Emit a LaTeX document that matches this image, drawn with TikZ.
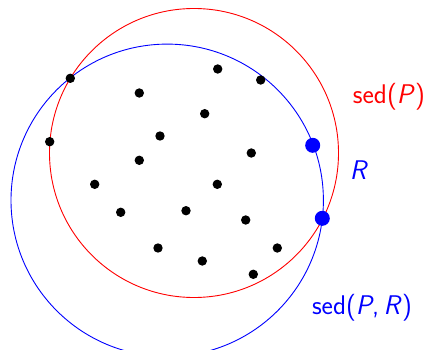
\documentclass[tikz,border=0pt]{standalone}
\usepackage{tikz}
\usetikzlibrary{positioning}

\begin{document}
\begin{tikzpicture}[x=1pt, y=-1pt, line width=0.9pt,
  pt/.style={circle, fill=black, inner sep=0pt, minimum size=9.4pt},
  bigpt/.style={circle, fill=blue, inner sep=0pt, minimum size=15pt},
  lbl/.style={font=\fontsize{27}{31}\selectfont\sffamily, inner sep=0pt}]
\useasboundingbox (0,0) rectangle (428,350);
% the two enclosing circles
\draw[red] (194,153) circle[radius=144.5pt];
\draw[blue] (167.2,200.3) circle[radius=156.2pt];
% point set P
\foreach \x/\y [count=\i] in {70.3/78.3, 217.7/69, 260.7/80, 139.3/93, 204.7/113.7,
    49.7/141.7, 160/136, 251.3/153, 139.3/160.3, 94.7/184.3, 217.3/184.3,
    120.7/212.3, 186/210.7, 245.7/220, 158/248, 277.3/248, 202.3/261, 253.3/274.3}
  \node[pt] (p\i) at (\x,\y) {};
% the set R
\node[bigpt] (r1) at (312.7,145.3) {};
\node[bigpt] (r2) at (322.3,218.3) {};
% labels
\node[lbl, text=red] (sedp) at (389,96.7) {sed(\textit{P})};
\node[lbl, text=blue] (rlab) at (359,170) {\textit{R}};
\node[lbl, text=blue] (sedpr) at (362,308) {sed(\textit{P},\,\textit{R})};
\end{tikzpicture}
\end{document}
